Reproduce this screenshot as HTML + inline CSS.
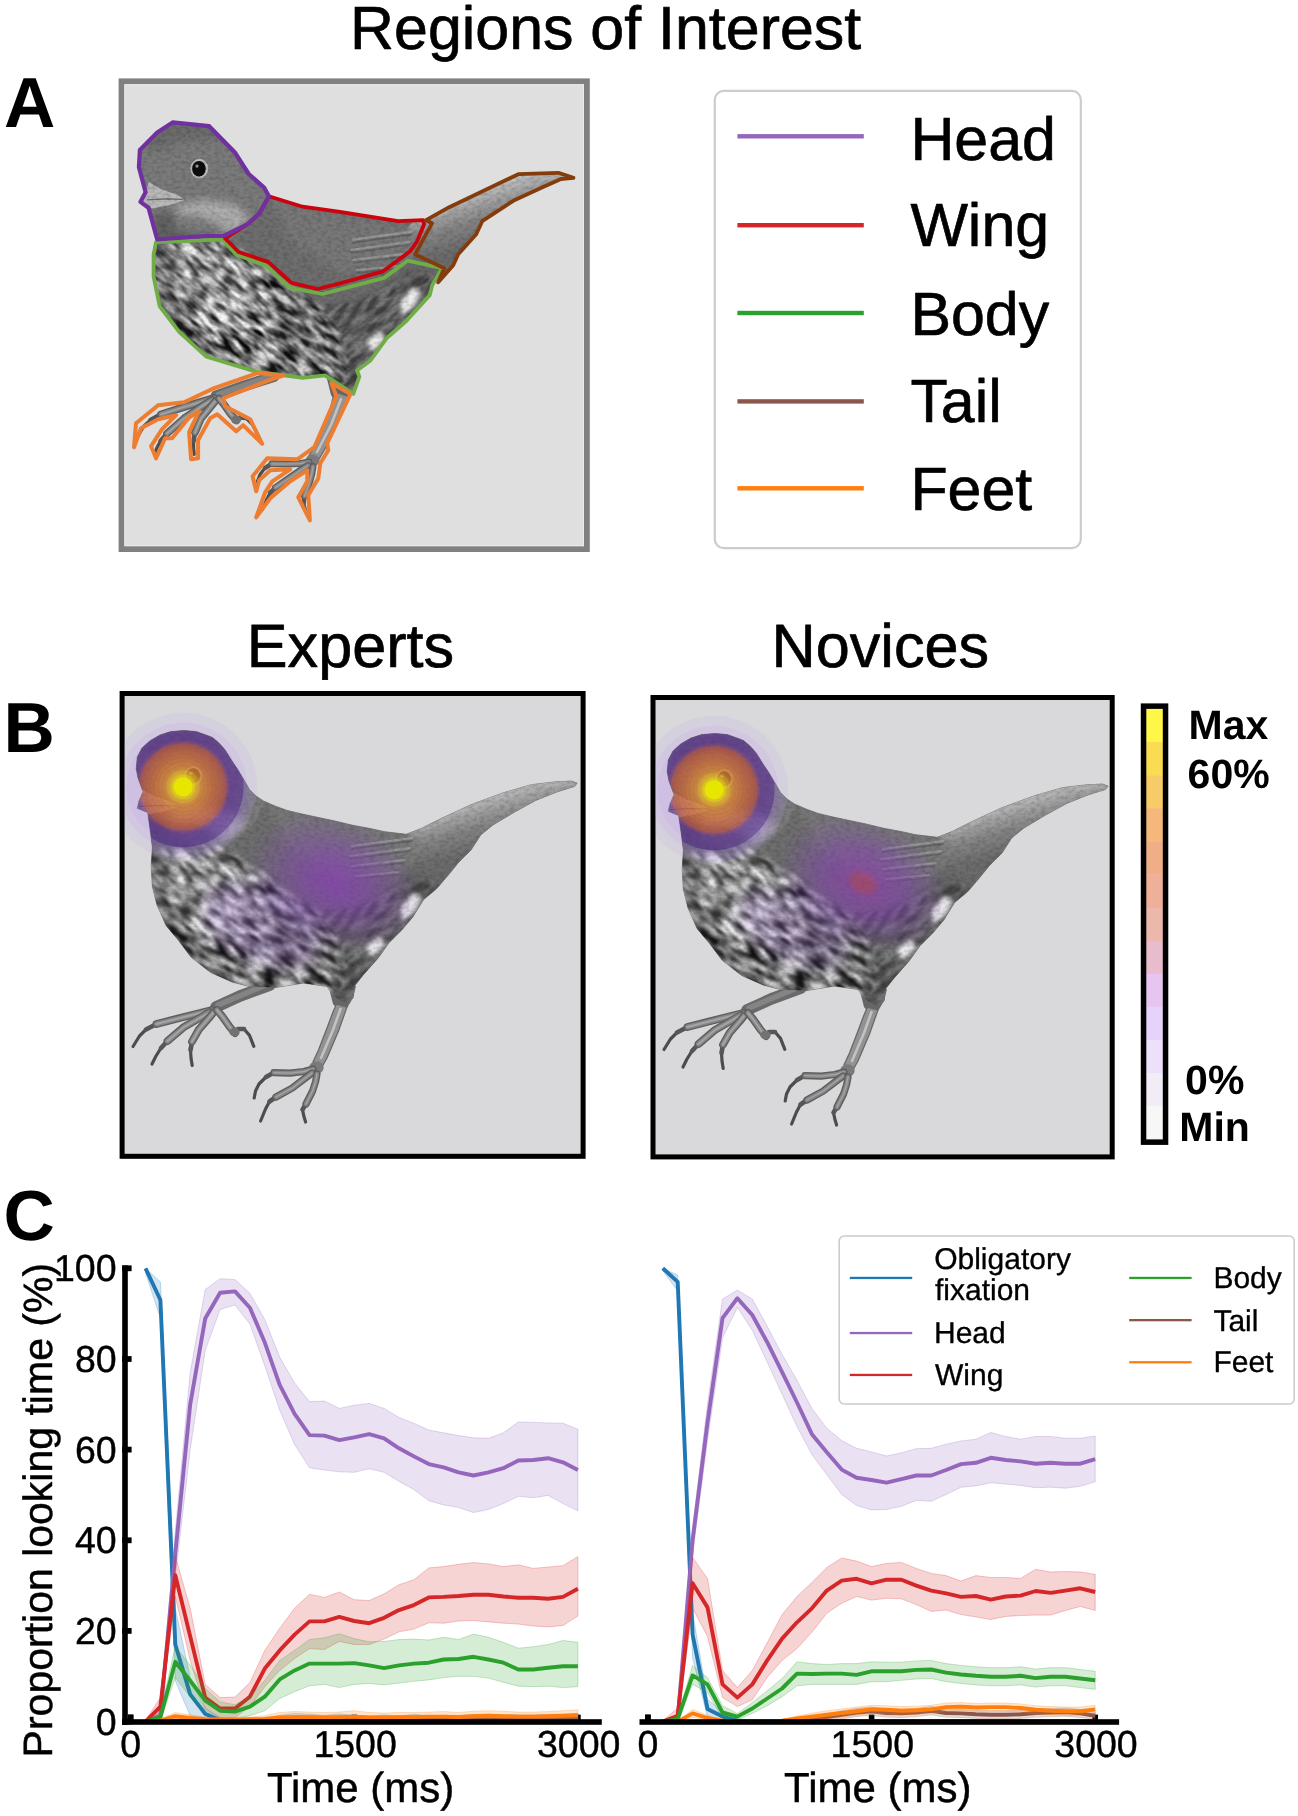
<!DOCTYPE html>
<html><head><meta charset="utf-8"><title>Figure</title>
<style>
html,body{margin:0;padding:0;background:#ffffff;overflow:hidden;}
svg{display:block;}
svg{opacity:0.9999;}
text{font-family:"Liberation Sans", sans-serif;fill:#000;text-rendering:geometricPrecision;}
</style></head>
<body>
<svg width="1298" height="1816" viewBox="0 0 1298 1816">
<rect x="0" y="0" width="1298" height="1816" fill="#ffffff"/>
<defs>
<clipPath id="bclip"><path d="M137.3,808.3 L139.0,801.0 L143.1,791.7 L138.0,778.0 L136.2,768.6 L137.3,757.0 L142.0,748.0 L150.0,740.8 L160.0,735.0 L170.8,731.6 L184.0,730.5 L196.3,731.6 L206.0,735.0 L212.4,737.4 L219.0,743.0 L225.2,750.1 L232.0,761.0 L237.9,769.7 L244.0,780.0 L249.4,789.4 L256.0,796.0 L263.3,800.9 L275.0,806.0 L286.4,810.2 L302.0,814.0 L316.4,817.1 L335.0,821.0 L352.4,825.2 L370.0,828.5 L384.7,831.7 L406.3,834.3 L421.4,828.4 L440.8,818.7 L471.0,804.7 L503.3,792.8 L531.4,784.7 L553.0,782.1 L571.3,781.0 L577.1,783.1 L574.5,786.4 L557.3,791.8 L535.7,800.4 L514.1,812.3 L492.6,825.2 L480.7,834.9 L471.0,850.0 L458.0,863.0 L449.4,873.7 L436.5,888.8 L423.5,899.6 L412.8,916.9 L402.0,929.8 L389.0,942.8 L378.2,957.9 L363.1,975.1 L354.5,985.9 L353.0,998.2 L344.0,1003.0 L333.6,996.1 L327.1,986.4 L303.3,983.1 L275.3,987.5 L249.4,986.4 L232.2,982.1 L210.6,972.4 L191.2,957.3 L178.2,940.0 L166.2,925.7 L157.0,904.9 L152.4,886.4 L151.2,865.6 L152.4,847.2 L150.0,828.7 L147.7,812.5Z"/></clipPath>
<filter id="mottle" x="-5%" y="-5%" width="110%" height="110%" color-interpolation-filters="sRGB">
<feTurbulence type="fractalNoise" baseFrequency="0.055 0.15" numOctaves="2" seed="11" result="n"/>
<feColorMatrix in="n" type="matrix" values="2.3 0 0 0 -0.64  2.3 0 0 0 -0.64  2.3 0 0 0 -0.64  0 0 0 0 1" result="g"/>
<feGaussianBlur in="g" stdDeviation="0.8" result="gb"/>
<feComposite in="gb" in2="SourceGraphic" operator="in"/>
</filter>
<filter id="grain" x="0" y="0" width="100%" height="100%" color-interpolation-filters="sRGB">
<feTurbulence type="fractalNoise" baseFrequency="0.2 0.32" numOctaves="3" seed="4" result="n"/>
<feColorMatrix in="n" type="matrix" values="0 0 0 0 0  0 0 0 0 0  0 0 0 0 0  0.36 0 0 0 -0.14" result="g"/>
<feGaussianBlur in="g" stdDeviation="0.7" result="gb"/>
<feComposite in="gb" in2="SourceGraphic" operator="in"/>
</filter>
<filter id="soft" x="-20%" y="-20%" width="140%" height="140%"><feGaussianBlur stdDeviation="4"/></filter>
<filter id="soft3" x="-40%" y="-40%" width="180%" height="180%"><feGaussianBlur stdDeviation="2.2"/></filter>
<filter id="soft2" x="-20%" y="-20%" width="140%" height="140%"><feGaussianBlur stdDeviation="1.2"/></filter>
<filter id="soft8" x="-30%" y="-30%" width="160%" height="160%"><feGaussianBlur stdDeviation="8"/></filter>
<linearGradient id="tailg" gradientUnits="userSpaceOnUse" x1="478" y1="799" x2="492" y2="845"><stop offset="0" stop-color="#c2c2c2"/><stop offset="0.22" stop-color="#a6a6a6"/><stop offset="0.55" stop-color="#868686"/><stop offset="1" stop-color="#6c6c6c"/></linearGradient>
<radialGradient id="heatGrad" gradientUnits="userSpaceOnUse" cx="183.1" cy="786.8" r="74">
<stop offset="0" stop-color="#e6e600" stop-opacity="1"/>
<stop offset="0.122" stop-color="#e6e600" stop-opacity="1"/>
<stop offset="0.135" stop-color="#e4cc20" stop-opacity="0.92"/>
<stop offset="0.178" stop-color="#e2c024" stop-opacity="0.9"/>
<stop offset="0.186" stop-color="#e0ac2c" stop-opacity="0.86"/>
<stop offset="0.232" stop-color="#dea030" stop-opacity="0.84"/>
<stop offset="0.24" stop-color="#da8a32" stop-opacity="0.8"/>
<stop offset="0.32" stop-color="#d47a34" stop-opacity="0.78"/>
<stop offset="0.40" stop-color="#cc6a36" stop-opacity="0.76"/>
<stop offset="0.49" stop-color="#c25c3a" stop-opacity="0.74"/>
<stop offset="0.575" stop-color="#b04c46" stop-opacity="0.72"/>
<stop offset="0.60" stop-color="#843c7c" stop-opacity="0.7"/>
<stop offset="0.64" stop-color="#5e3094" stop-opacity="0.68"/>
<stop offset="0.81" stop-color="#5c329c" stop-opacity="0.62"/>
<stop offset="0.825" stop-color="#8c6cc6" stop-opacity="0.42"/>
<stop offset="0.92" stop-color="#a486d4" stop-opacity="0.3"/>
<stop offset="1" stop-color="#b89ee0" stop-opacity="0.1"/>
</radialGradient>
<radialGradient id="wingE" gradientUnits="objectBoundingBox" cx="0.5" cy="0.5" r="0.5">
<stop offset="0" stop-color="#8a3db6" stop-opacity="0.74"/>
<stop offset="0.3" stop-color="#8540b4" stop-opacity="0.62"/>
<stop offset="0.55" stop-color="#8344b2" stop-opacity="0.42"/>
<stop offset="0.8" stop-color="#8048b0" stop-opacity="0.18"/>
<stop offset="1" stop-color="#8050b0" stop-opacity="0"/>
</radialGradient>
<radialGradient id="wingN" gradientUnits="objectBoundingBox" cx="0.5" cy="0.5" r="0.5">
<stop offset="0" stop-color="#b03c6c" stop-opacity="0.72"/>
<stop offset="0.13" stop-color="#a83c80" stop-opacity="0.68"/>
<stop offset="0.2" stop-color="#8c3cae" stop-opacity="0.64"/>
<stop offset="0.5" stop-color="#8340b4" stop-opacity="0.5"/>
<stop offset="0.78" stop-color="#8048b0" stop-opacity="0.22"/>
<stop offset="1" stop-color="#8050b0" stop-opacity="0"/>
</radialGradient>
<g id="feetB">
<path d="M270,985 L240,996 L216,1007" fill="none" stroke="#6a6a6a" stroke-width="11.5" stroke-linecap="round" stroke-linejoin="round"/>
<path d="M268,984 L218,1005" fill="none" stroke="#848484" stroke-width="5.5" stroke-linecap="round" stroke-linejoin="round"/>
<path d="M156.5,1024 L146,1029.5 L139.5,1036 L133,1046.5" fill="none" stroke="#4c4c4c" stroke-width="3.2" stroke-linecap="round" stroke-linejoin="round"/>
<path d="M156.5,1024 L146,1029.5" fill="none" stroke="#565656" stroke-width="4.6" stroke-linecap="round" stroke-linejoin="round"/>
<path d="M212,1010 L199,1013.2 L176.8,1018.8 L156.5,1024" fill="none" stroke="#5e5e5e" stroke-width="7.8" stroke-linecap="round" stroke-linejoin="round"/>
<path d="M212,1010 L199,1013.2 L176.8,1018.8 L156.5,1024" fill="none" stroke="#868686" stroke-width="5.0" stroke-linecap="round" stroke-linejoin="round"/>
<path d="M212,1010 L199,1013.2 L176.8,1018.8 L156.5,1024" fill="none" stroke="#a4a4a4" stroke-width="2.0" stroke-linecap="round" stroke-linejoin="round"/>
<path d="M167.5,1041 L161,1048 L156,1056 L152,1064" fill="none" stroke="#4c4c4c" stroke-width="3.2" stroke-linecap="round" stroke-linejoin="round"/>
<path d="M167.5,1041 L161,1048" fill="none" stroke="#565656" stroke-width="4.6" stroke-linecap="round" stroke-linejoin="round"/>
<path d="M210,1012 L201.4,1017 L184.2,1026.8 L167.5,1041" fill="none" stroke="#5e5e5e" stroke-width="7.8" stroke-linecap="round" stroke-linejoin="round"/>
<path d="M210,1012 L201.4,1017 L184.2,1026.8 L167.5,1041" fill="none" stroke="#868686" stroke-width="5.0" stroke-linecap="round" stroke-linejoin="round"/>
<path d="M210,1012 L201.4,1017 L184.2,1026.8 L167.5,1041" fill="none" stroke="#a4a4a4" stroke-width="2.0" stroke-linecap="round" stroke-linejoin="round"/>
<path d="M192,1041.6 L190.5,1050 L191,1058 L192.2,1065.4" fill="none" stroke="#4c4c4c" stroke-width="3.2" stroke-linecap="round" stroke-linejoin="round"/>
<path d="M192,1041.6 L190.5,1050" fill="none" stroke="#565656" stroke-width="4.6" stroke-linecap="round" stroke-linejoin="round"/>
<path d="M213,1013 L208.8,1018.2 L199,1029.3 L192,1041.6" fill="none" stroke="#5e5e5e" stroke-width="7.8" stroke-linecap="round" stroke-linejoin="round"/>
<path d="M213,1013 L208.8,1018.2 L199,1029.3 L192,1041.6" fill="none" stroke="#868686" stroke-width="5.0" stroke-linecap="round" stroke-linejoin="round"/>
<path d="M213,1013 L208.8,1018.2 L199,1029.3 L192,1041.6" fill="none" stroke="#a4a4a4" stroke-width="2.0" stroke-linecap="round" stroke-linejoin="round"/>
<path d="M238,1029 L244,1029 L249.5,1035.4 L253.8,1046.3" fill="none" stroke="#4c4c4c" stroke-width="3.2" stroke-linecap="round" stroke-linejoin="round"/>
<path d="M238,1029 L244,1029" fill="none" stroke="#565656" stroke-width="4.6" stroke-linecap="round" stroke-linejoin="round"/>
<path d="M217,1010 L222,1016 L229.8,1027 L235,1033" fill="none" stroke="#5e5e5e" stroke-width="7.8" stroke-linecap="round" stroke-linejoin="round"/>
<path d="M217,1010 L222,1016 L229.8,1027 L235,1033" fill="none" stroke="#868686" stroke-width="5.0" stroke-linecap="round" stroke-linejoin="round"/>
<path d="M217,1010 L222,1016 L229.8,1027 L235,1033" fill="none" stroke="#a4a4a4" stroke-width="2.0" stroke-linecap="round" stroke-linejoin="round"/>
<ellipse cx="234.5" cy="1032" rx="5.2" ry="4.4" fill="#727272"/>
<path d="M328,984 L356,986 L353,998 L347,1008 L338,1010 L333,1004 Z" fill="#666666"/>
<path d="M336.5,1004 L347,1007 L338.5,1031 L327,1058 L322.5,1066 L313,1062 L318.5,1050 L327,1028 L333,1012 Z" fill="#929292" stroke="#686868" stroke-width="1.3"/>
<path d="M340.5,1009 L333,1030 L321,1058" fill="none" stroke="#c2c2c2" stroke-width="2.6" stroke-linecap="round" stroke-linejoin="round"/>
<ellipse cx="316.5" cy="1067.5" rx="7.2" ry="6.2" fill="#7a7a7a"/>
<path d="M274,1072.6 L266,1077 L259,1084 L255.5,1091 L254.2,1098" fill="none" stroke="#4c4c4c" stroke-width="3.2" stroke-linecap="round" stroke-linejoin="round"/>
<path d="M274,1072.6 L266,1077" fill="none" stroke="#565656" stroke-width="4.6" stroke-linecap="round" stroke-linejoin="round"/>
<path d="M313,1069 L304,1071.5 L290.1,1073.1 L274,1072.6" fill="none" stroke="#5e5e5e" stroke-width="7.2" stroke-linecap="round" stroke-linejoin="round"/>
<path d="M313,1069 L304,1071.5 L290.1,1073.1 L274,1072.6" fill="none" stroke="#868686" stroke-width="4.4" stroke-linecap="round" stroke-linejoin="round"/>
<path d="M313,1069 L304,1071.5 L290.1,1073.1 L274,1072.6" fill="none" stroke="#a4a4a4" stroke-width="1.4" stroke-linecap="round" stroke-linejoin="round"/>
<path d="M276,1097 L269.5,1101.5 L265.5,1109 L260.6,1121" fill="none" stroke="#4c4c4c" stroke-width="3.2" stroke-linecap="round" stroke-linejoin="round"/>
<path d="M276,1097 L269.5,1101.5" fill="none" stroke="#565656" stroke-width="4.6" stroke-linecap="round" stroke-linejoin="round"/>
<path d="M312,1073 L306,1077.5 L292.1,1088.2 L276,1097" fill="none" stroke="#5e5e5e" stroke-width="7.2" stroke-linecap="round" stroke-linejoin="round"/>
<path d="M312,1073 L306,1077.5 L292.1,1088.2 L276,1097" fill="none" stroke="#868686" stroke-width="4.4" stroke-linecap="round" stroke-linejoin="round"/>
<path d="M312,1073 L306,1077.5 L292.1,1088.2 L276,1097" fill="none" stroke="#a4a4a4" stroke-width="1.4" stroke-linecap="round" stroke-linejoin="round"/>
<path d="M306,1104 L302.5,1109.5 L303.8,1116 L305.6,1122" fill="none" stroke="#4c4c4c" stroke-width="3.2" stroke-linecap="round" stroke-linejoin="round"/>
<path d="M306,1104 L302.5,1109.5" fill="none" stroke="#565656" stroke-width="4.6" stroke-linecap="round" stroke-linejoin="round"/>
<path d="M317,1074 L315.5,1082 L312.6,1091 L306,1104" fill="none" stroke="#5e5e5e" stroke-width="7.2" stroke-linecap="round" stroke-linejoin="round"/>
<path d="M317,1074 L315.5,1082 L312.6,1091 L306,1104" fill="none" stroke="#868686" stroke-width="4.4" stroke-linecap="round" stroke-linejoin="round"/>
<path d="M317,1074 L315.5,1082 L312.6,1091 L306,1104" fill="none" stroke="#a4a4a4" stroke-width="1.4" stroke-linecap="round" stroke-linejoin="round"/>
</g>
<g id="feetA">
<path d="M274,376.5 L244,386 L216,396" fill="none" stroke="#6a6a6a" stroke-width="11.0" stroke-linecap="round" stroke-linejoin="round"/>
<path d="M272,375.5 L218,394.5" fill="none" stroke="#848484" stroke-width="5.2" stroke-linecap="round" stroke-linejoin="round"/>
<path d="M161,414.4 L150.5,420 L143.5,426.5 L137.5,437 L136.3,440.5" fill="none" stroke="#4c4c4c" stroke-width="3.2" stroke-linecap="round" stroke-linejoin="round"/>
<path d="M161,414.4 L150.5,420" fill="none" stroke="#565656" stroke-width="4.6" stroke-linecap="round" stroke-linejoin="round"/>
<path d="M214,398 L202,401.5 L181,408 L161,414.4" fill="none" stroke="#5e5e5e" stroke-width="7.6" stroke-linecap="round" stroke-linejoin="round"/>
<path d="M214,398 L202,401.5 L181,408 L161,414.4" fill="none" stroke="#868686" stroke-width="4.8" stroke-linecap="round" stroke-linejoin="round"/>
<path d="M214,398 L202,401.5 L181,408 L161,414.4" fill="none" stroke="#a4a4a4" stroke-width="1.8" stroke-linecap="round" stroke-linejoin="round"/>
<path d="M167,433.5 L160.5,441 L157,447.5 L155,452.5" fill="none" stroke="#4c4c4c" stroke-width="3.2" stroke-linecap="round" stroke-linejoin="round"/>
<path d="M167,433.5 L160.5,441" fill="none" stroke="#565656" stroke-width="4.6" stroke-linecap="round" stroke-linejoin="round"/>
<path d="M212,400 L203,405.5 L184,418.5 L167,433.5" fill="none" stroke="#5e5e5e" stroke-width="7.6" stroke-linecap="round" stroke-linejoin="round"/>
<path d="M212,400 L203,405.5 L184,418.5 L167,433.5" fill="none" stroke="#868686" stroke-width="4.8" stroke-linecap="round" stroke-linejoin="round"/>
<path d="M212,400 L203,405.5 L184,418.5 L167,433.5" fill="none" stroke="#a4a4a4" stroke-width="1.8" stroke-linecap="round" stroke-linejoin="round"/>
<path d="M195,432.5 L193.6,441 L193.6,448 L194.2,454.5" fill="none" stroke="#4c4c4c" stroke-width="3.2" stroke-linecap="round" stroke-linejoin="round"/>
<path d="M195,432.5 L193.6,441" fill="none" stroke="#565656" stroke-width="4.6" stroke-linecap="round" stroke-linejoin="round"/>
<path d="M215,401.5 L210.5,407 L201,418.5 L195,432.5" fill="none" stroke="#5e5e5e" stroke-width="7.6" stroke-linecap="round" stroke-linejoin="round"/>
<path d="M215,401.5 L210.5,407 L201,418.5 L195,432.5" fill="none" stroke="#868686" stroke-width="4.8" stroke-linecap="round" stroke-linejoin="round"/>
<path d="M215,401.5 L210.5,407 L201,418.5 L195,432.5" fill="none" stroke="#a4a4a4" stroke-width="1.8" stroke-linecap="round" stroke-linejoin="round"/>
<path d="M239.5,417.5 L246,418 L252,424 L256,431 L258.4,437.4" fill="none" stroke="#4c4c4c" stroke-width="3.2" stroke-linecap="round" stroke-linejoin="round"/>
<path d="M239.5,417.5 L246,418" fill="none" stroke="#565656" stroke-width="4.6" stroke-linecap="round" stroke-linejoin="round"/>
<path d="M219,398.5 L224,404.5 L231,414.5 L236.5,420.5" fill="none" stroke="#5e5e5e" stroke-width="7.6" stroke-linecap="round" stroke-linejoin="round"/>
<path d="M219,398.5 L224,404.5 L231,414.5 L236.5,420.5" fill="none" stroke="#868686" stroke-width="4.8" stroke-linecap="round" stroke-linejoin="round"/>
<path d="M219,398.5 L224,404.5 L231,414.5 L236.5,420.5" fill="none" stroke="#a4a4a4" stroke-width="1.8" stroke-linecap="round" stroke-linejoin="round"/>
<ellipse cx="236" cy="419.8" rx="5" ry="4.2" fill="#727272"/>
<path d="M326,375 L352,380 L351,391 L346,401 L336,402 L331,395 Z" fill="#666666"/>
<path d="M334.5,392 L348.5,396.5 L341,414 L331,436 L325,449 L318.5,460 L309,455.5 L316,444 L323,430 L330,410 Z" fill="#929292" stroke="#686868" stroke-width="1.3"/>
<path d="M341,399 L331,425 L317,452" fill="none" stroke="#c2c2c2" stroke-width="2.6" stroke-linecap="round" stroke-linejoin="round"/>
<ellipse cx="312.5" cy="460.5" rx="7" ry="6" fill="#7a7a7a"/>
<path d="M272,463.8 L265,468 L260,474.5 L257.5,481 L256.8,487" fill="none" stroke="#4c4c4c" stroke-width="3.2" stroke-linecap="round" stroke-linejoin="round"/>
<path d="M272,463.8 L265,468" fill="none" stroke="#565656" stroke-width="4.6" stroke-linecap="round" stroke-linejoin="round"/>
<path d="M309,462 L300,463.6 L287,464 L272,463.8" fill="none" stroke="#5e5e5e" stroke-width="7.0" stroke-linecap="round" stroke-linejoin="round"/>
<path d="M309,462 L300,463.6 L287,464 L272,463.8" fill="none" stroke="#868686" stroke-width="4.2" stroke-linecap="round" stroke-linejoin="round"/>
<path d="M309,462 L300,463.6 L287,464 L272,463.8" fill="none" stroke="#a4a4a4" stroke-width="1.2" stroke-linecap="round" stroke-linejoin="round"/>
<path d="M275.5,487.6 L270,493 L266.5,500 L262.5,509.5" fill="none" stroke="#4c4c4c" stroke-width="3.2" stroke-linecap="round" stroke-linejoin="round"/>
<path d="M275.5,487.6 L270,493" fill="none" stroke="#565656" stroke-width="4.6" stroke-linecap="round" stroke-linejoin="round"/>
<path d="M308,465.5 L301,470 L288,479 L275.5,487.6" fill="none" stroke="#5e5e5e" stroke-width="7.0" stroke-linecap="round" stroke-linejoin="round"/>
<path d="M308,465.5 L301,470 L288,479 L275.5,487.6" fill="none" stroke="#868686" stroke-width="4.2" stroke-linecap="round" stroke-linejoin="round"/>
<path d="M308,465.5 L301,470 L288,479 L275.5,487.6" fill="none" stroke="#a4a4a4" stroke-width="1.2" stroke-linecap="round" stroke-linejoin="round"/>
<path d="M304.5,496 L303.6,503 L305.5,510 L308.4,516.5" fill="none" stroke="#4c4c4c" stroke-width="3.2" stroke-linecap="round" stroke-linejoin="round"/>
<path d="M304.5,496 L303.6,503" fill="none" stroke="#565656" stroke-width="4.6" stroke-linecap="round" stroke-linejoin="round"/>
<path d="M313,466.5 L311.8,474 L309,484 L304.5,496" fill="none" stroke="#5e5e5e" stroke-width="7.0" stroke-linecap="round" stroke-linejoin="round"/>
<path d="M313,466.5 L311.8,474 L309,484 L304.5,496" fill="none" stroke="#868686" stroke-width="4.2" stroke-linecap="round" stroke-linejoin="round"/>
<path d="M313,466.5 L311.8,474 L309,484 L304.5,496" fill="none" stroke="#a4a4a4" stroke-width="1.2" stroke-linecap="round" stroke-linejoin="round"/>
</g>
<g id="shade">
<path d="M392,850 L418,824 L471,800 L531,780 L580,776 L582,790 L536,805 L493,830 L470,858 L440,892 L412,922 Z" fill="url(#tailg)"/>
<path d="M424,830 L471,806.5 L531,786.5 L572,783" fill="none" stroke="#b0b0b0" stroke-width="3" filter="url(#soft2)"/>
<path d="M262,800 L300,812 L352,823 L406,832 L418,842 L400,870 L340,880 L290,850 Z" fill="#787878" filter="url(#soft)"/>
<path d="M300,915 L360,906 L415,876 L440,884 L405,930 L372,968 L352,1000 L330,1000 L322,975 L290,950 Z" fill="#545454" filter="url(#soft)"/>
<path d="M352,846 L412,838" stroke="#a0a0a0" stroke-width="2.2" stroke-linecap="round" opacity="0.75"/>
<path d="M352,849 L412,841" stroke="#5c5c5c" stroke-width="1.6" stroke-linecap="round" opacity="0.7"/>
<path d="M350,856 L410,848" stroke="#a0a0a0" stroke-width="2.2" stroke-linecap="round" opacity="0.75"/>
<path d="M350,859 L410,851" stroke="#5c5c5c" stroke-width="1.6" stroke-linecap="round" opacity="0.7"/>
<path d="M352,866 L404,860" stroke="#a0a0a0" stroke-width="2.2" stroke-linecap="round" opacity="0.75"/>
<path d="M352,869 L404,863" stroke="#5c5c5c" stroke-width="1.6" stroke-linecap="round" opacity="0.7"/>
<path d="M356,876 L398,872" stroke="#a0a0a0" stroke-width="2.2" stroke-linecap="round" opacity="0.75"/>
<path d="M356,879 L398,875" stroke="#5c5c5c" stroke-width="1.6" stroke-linecap="round" opacity="0.7"/>
<mask id="bellymask" maskUnits="userSpaceOnUse" x="100" y="800" width="320" height="240"><path d="M140.0,846.0 L218.0,843.0 L236.0,858.0 L262.0,872.0 L290.0,896.0 L318.0,912.0 L336.0,936.0 L346.0,962.0 L340.0,995.0 L300.0,996.0 L250.0,996.0 L200.0,980.0 L160.0,945.0 L140.0,900.0Z" fill="#fff" filter="url(#soft)"/></mask>
<g mask="url(#bellymask)">
<rect x="120" y="820" width="260" height="200" fill="#868686"/>
<g transform="rotate(38 240 920)"><rect x="60" y="760" width="380" height="330" fill="#fff" filter="url(#mottle)" opacity="0.92"/></g>
</g>
<path d="M146,850 L166,850 L170,900 L186,940 L210,968 L196,975 L166,945 L148,900 Z" fill="#303030" opacity="0.4" filter="url(#soft)"/>
<path d="M160,850 L215,848 L250,880 L262,915 L215,925 L168,905 Z" fill="#ffffff" opacity="0.22" filter="url(#soft)"/>
<path d="M185,940 L240,958 L300,962 L345,950 L350,1004 L240,1000 L185,975 Z" fill="#3c3c3c" opacity="0.18" filter="url(#soft)"/>
<path d="M270,900 L320,915 L345,960 L300,965 L268,940 Z" fill="#4a4a4a" opacity="0.3" filter="url(#soft)"/>
<mask id="flankmask" maskUnits="userSpaceOnUse" x="280" y="850" width="200" height="180"><path d="M318.0,912.0 L360.0,906.0 L415.0,876.0 L445.0,884.0 L405.0,930.0 L372.0,968.0 L356.0,1002.0 L338.0,1000.0 L346.0,962.0 L336.0,936.0Z" fill="#fff" filter="url(#soft2)"/></mask>
<g mask="url(#flankmask)" opacity="0.22"><g transform="rotate(-40 380 940)"><rect x="260" y="820" width="240" height="240" fill="#fff" filter="url(#mottle)"/></g></g>
<path d="M401,906 L414,893 L422,899 L413,914 L401,921 Z" fill="#f0f0f0" filter="url(#soft3)"/>
<path d="M365,946 L380,936 L385,945 L371,957 Z" fill="#ececec" filter="url(#soft3)"/>
<path d="M130,756 L150,736 L171,727 L197,727 L216,735 L230,750 L252,790 L266,802 L254,824 L228,840 L195,845 L146,848 L140,812 Z" fill="#7f7f7f" opacity="0.8" filter="url(#soft2)"/>
<path d="M138,752 L150,738 L171,729 L197,729 L214,736 L226,748 L200,746 L170,748 L148,760 Z" fill="#505050" opacity="0.35" filter="url(#soft)"/>
<path d="M170,812 L200,806 L232,812 L246,826 L226,840 L190,842 L166,834 Z" fill="#c4c4c4" opacity="0.7" filter="url(#soft)"/>
<path d="M146,820 L190,822 L222,834 L206,848 L148,850 Z" fill="#404040" opacity="0.45" filter="url(#soft)"/>
<path d="M134,809.5 L141.5,789 L154,796 L172,802 L178,807 L162,812 L145,815 Z" fill="#b9b9b9"/>
<path d="M139.5,806.5 L160,805.5 L176,806" stroke="#6a6a6a" stroke-width="1.2" fill="none"/>
<ellipse cx="193.4" cy="775.6" rx="9.2" ry="9.6" fill="#bdbdbd"/>
<ellipse cx="193.0" cy="775.8" rx="7.0" ry="7.6" fill="#0c0c0c"/>
<ellipse cx="191" cy="773.2" rx="1.7" ry="1.5" fill="#9a9a9a"/>
<rect x="120" y="715" width="470" height="300" fill="#000" filter="url(#grain)"/>
</g>
<g id="bird">
<use href="#feetB"/>
<path d="M137.3,808.3 L139.0,801.0 L143.1,791.7 L138.0,778.0 L136.2,768.6 L137.3,757.0 L142.0,748.0 L150.0,740.8 L160.0,735.0 L170.8,731.6 L184.0,730.5 L196.3,731.6 L206.0,735.0 L212.4,737.4 L219.0,743.0 L225.2,750.1 L232.0,761.0 L237.9,769.7 L244.0,780.0 L249.4,789.4 L256.0,796.0 L263.3,800.9 L275.0,806.0 L286.4,810.2 L302.0,814.0 L316.4,817.1 L335.0,821.0 L352.4,825.2 L370.0,828.5 L384.7,831.7 L406.3,834.3 L421.4,828.4 L440.8,818.7 L471.0,804.7 L503.3,792.8 L531.4,784.7 L553.0,782.1 L571.3,781.0 L577.1,783.1 L574.5,786.4 L557.3,791.8 L535.7,800.4 L514.1,812.3 L492.6,825.2 L480.7,834.9 L471.0,850.0 L458.0,863.0 L449.4,873.7 L436.5,888.8 L423.5,899.6 L412.8,916.9 L402.0,929.8 L389.0,942.8 L378.2,957.9 L363.1,975.1 L354.5,985.9 L353.0,998.2 L344.0,1003.0 L333.6,996.1 L327.1,986.4 L303.3,983.1 L275.3,987.5 L249.4,986.4 L232.2,982.1 L210.6,972.4 L191.2,957.3 L178.2,940.0 L166.2,925.7 L157.0,904.9 L152.4,886.4 L151.2,865.6 L152.4,847.2 L150.0,828.7 L147.7,812.5Z" fill="#6e6e6e" stroke="#6e6e6e" stroke-width="0.8" stroke-linejoin="round"/>
<g clip-path="url(#bclip)"><use href="#shade"/></g>
</g>
<clipPath id="aclip"><path d="M172.6,122.4 L209.2,126.2 L235.2,152.8 L248.7,174.0 L264.1,187.5 L268.9,196.2 L259.3,213.5 L247.7,224.1 L223.6,236.0 L204.4,236.0 L157.2,239.5 L148.5,207.7 L140.4,201.9 L145.6,192.3 L138.9,167.3 L139.9,149.9 L157.2,132.6Z"/><path d="M268.9,196.2 L302.6,206.7 L340.0,211.8 L398.1,221.2 L423.1,220.2 L424.1,224.2 L417.1,241.3 L410.1,251.3 L383.1,271.3 L340.0,283.3 L317.5,289.0 L291.6,282.9 L268.2,261.9 L238.6,252.0 L225.1,238.5 L247.7,224.1 L259.3,213.5Z"/><path d="M156.0,242.2 L222.6,239.7 L236.2,254.5 L265.7,265.6 L290.4,287.8 L322.4,294.0 L384.1,277.9 L407.5,260.7 L442.0,268.1 L432.2,285.3 L429.7,295.2 L406.3,321.1 L386.5,338.3 L370.5,360.5 L357.0,370.4 L359.4,376.6 L353.3,393.8 L324.9,375.3 L302.7,377.8 L255.9,371.6 L206.6,356.8 L179.4,332.2 L159.7,306.3 L153.6,276.7 L153.6,254.5Z"/><path d="M426.1,220.2 L449.2,207.2 L518.3,174.2 L558.4,172.8 L573.4,177.8 L560.4,179.2 L540.3,188.2 L514.3,200.2 L482.2,221.2 L476.2,234.3 L458.2,254.3 L453.2,265.3 L438.2,282.3 L444.2,268.3 L415.1,254.3 L432.1,223.2Z"/><path d="M410.1,251.3 L383.1,271.3 L340.0,283.3 L317.5,289.0 L291.6,282.9 L268.2,261.9 L238.6,252.0 L225.1,238.5 L222.6,239.7 L236.2,254.5 L265.7,265.6 L290.4,287.8 L322.4,294.0 L384.1,277.9 L407.5,260.7Z"/><path d="M410.1,251.3 L415.1,254.3 L444.2,268.3 L442.0,268.1 L407.5,260.7Z"/><path d="M423.1,220.2 L426.1,220.2 L432.1,223.2 L415.1,254.3 L410.1,251.3 L417.1,241.3 L424.1,224.2Z"/><path d="M157.2,239.5 L204.4,236.0 L223.6,236.0 L225.1,238.5 L222.6,239.7 L156.0,242.2Z"/></clipPath>
<g id="birdA">
<use href="#feetA"/>
<path d="M172.6,122.4 L209.2,126.2 L235.2,152.8 L248.7,174.0 L264.1,187.5 L268.9,196.2 L259.3,213.5 L247.7,224.1 L223.6,236.0 L204.4,236.0 L157.2,239.5 L148.5,207.7 L140.4,201.9 L145.6,192.3 L138.9,167.3 L139.9,149.9 L157.2,132.6Z" fill="#6e6e6e" stroke="#6e6e6e" stroke-width="1"/>
<path d="M268.9,196.2 L302.6,206.7 L340.0,211.8 L398.1,221.2 L423.1,220.2 L424.1,224.2 L417.1,241.3 L410.1,251.3 L383.1,271.3 L340.0,283.3 L317.5,289.0 L291.6,282.9 L268.2,261.9 L238.6,252.0 L225.1,238.5 L247.7,224.1 L259.3,213.5Z" fill="#6e6e6e" stroke="#6e6e6e" stroke-width="1"/>
<path d="M156.0,242.2 L222.6,239.7 L236.2,254.5 L265.7,265.6 L290.4,287.8 L322.4,294.0 L384.1,277.9 L407.5,260.7 L442.0,268.1 L432.2,285.3 L429.7,295.2 L406.3,321.1 L386.5,338.3 L370.5,360.5 L357.0,370.4 L359.4,376.6 L353.3,393.8 L324.9,375.3 L302.7,377.8 L255.9,371.6 L206.6,356.8 L179.4,332.2 L159.7,306.3 L153.6,276.7 L153.6,254.5Z" fill="#6e6e6e" stroke="#6e6e6e" stroke-width="1"/>
<path d="M426.1,220.2 L449.2,207.2 L518.3,174.2 L558.4,172.8 L573.4,177.8 L560.4,179.2 L540.3,188.2 L514.3,200.2 L482.2,221.2 L476.2,234.3 L458.2,254.3 L453.2,265.3 L438.2,282.3 L444.2,268.3 L415.1,254.3 L432.1,223.2Z" fill="#6e6e6e" stroke="#6e6e6e" stroke-width="1"/>
<path d="M410.1,251.3 L383.1,271.3 L340.0,283.3 L317.5,289.0 L291.6,282.9 L268.2,261.9 L238.6,252.0 L225.1,238.5 L222.6,239.7 L236.2,254.5 L265.7,265.6 L290.4,287.8 L322.4,294.0 L384.1,277.9 L407.5,260.7Z" fill="#6e6e6e" stroke="#6e6e6e" stroke-width="1"/>
<path d="M410.1,251.3 L415.1,254.3 L444.2,268.3 L442.0,268.1 L407.5,260.7Z" fill="#6e6e6e" stroke="#6e6e6e" stroke-width="1"/>
<path d="M423.1,220.2 L426.1,220.2 L432.1,223.2 L415.1,254.3 L410.1,251.3 L417.1,241.3 L424.1,224.2Z" fill="#6e6e6e" stroke="#6e6e6e" stroke-width="1"/>
<path d="M157.2,239.5 L204.4,236.0 L223.6,236.0 L225.1,238.5 L222.6,239.7 L156.0,242.2Z" fill="#6e6e6e" stroke="#6e6e6e" stroke-width="1"/>
<g clip-path="url(#aclip)"><use href="#shade" transform="translate(11.55,-615.67) scale(0.9709,1.0111)"/></g>
</g>
<g id="heatOut">
<circle cx="183.1" cy="786.8" r="74.0" fill="#c3a6ea" opacity="0.16"/>
<circle cx="183.1" cy="786.8" r="64.0" fill="#c3a6ea" opacity="0.20"/>
<circle cx="183.1" cy="786.8" r="56.5" fill="#c3a6ea" opacity="0.25"/>
</g>
<g id="heatIn" clip-path="url(#bclip)">
<circle cx="183.1" cy="786.8" r="74" fill="url(#heatGrad)"/>
<circle cx="183.1" cy="786.8" r="13" fill="none" stroke="#b8502c" stroke-opacity="0.16" stroke-width="0.9"/>
<circle cx="183.1" cy="786.8" r="17" fill="none" stroke="#b8502c" stroke-opacity="0.16" stroke-width="0.9"/>
<circle cx="183.1" cy="786.8" r="21" fill="none" stroke="#b8502c" stroke-opacity="0.16" stroke-width="0.9"/>
<circle cx="183.1" cy="786.8" r="25" fill="none" stroke="#b8502c" stroke-opacity="0.16" stroke-width="0.9"/>
<circle cx="183.1" cy="786.8" r="29" fill="none" stroke="#b8502c" stroke-opacity="0.16" stroke-width="0.9"/>
<circle cx="183.1" cy="786.8" r="33" fill="none" stroke="#b8502c" stroke-opacity="0.16" stroke-width="0.9"/>
<circle cx="183.1" cy="786.8" r="37" fill="none" stroke="#b8502c" stroke-opacity="0.16" stroke-width="0.9"/>
<circle cx="183.1" cy="786.8" r="41" fill="none" stroke="#b8502c" stroke-opacity="0.16" stroke-width="0.9"/>
</g>
</defs>
<rect x="118.6" y="78.4" width="471.2" height="473.6" fill="#808080"/>
<rect x="124.4" y="84.2" width="459.6" height="462" fill="#dfdfdf"/>
<rect x="124.9" y="84.7" width="458.6" height="461" fill="none" stroke="#ececec" stroke-width="1"/>
<use href="#birdA"/>
<path d="M156.0,242.2 L222.6,239.7 L236.2,254.5 L265.7,265.6 L290.4,287.8 L322.4,294.0 L384.1,277.9 L407.5,260.7 L442.0,268.1 L432.2,285.3 L429.7,295.2 L406.3,321.1 L386.5,338.3 L370.5,360.5 L357.0,370.4 L359.4,376.6 L353.3,393.8 L324.9,375.3 L302.7,377.8 L255.9,371.6 L206.6,356.8 L179.4,332.2 L159.7,306.3 L153.6,276.7 L153.6,254.5Z" fill="none" stroke="#70ad47" stroke-width="3.8" stroke-linejoin="round"/>
<path d="M268.9,196.2 L302.6,206.7 L340.0,211.8 L398.1,221.2 L423.1,220.2 L424.1,224.2 L417.1,241.3 L410.1,251.3 L383.1,271.3 L340.0,283.3 L317.5,289.0 L291.6,282.9 L268.2,261.9 L238.6,252.0 L225.1,238.5 L247.7,224.1 L259.3,213.5Z" fill="none" stroke="#c9040c" stroke-width="3.8" stroke-linejoin="round"/>
<path d="M426.1,220.2 L449.2,207.2 L518.3,174.2 L558.4,172.8 L573.4,177.8 L560.4,179.2 L540.3,188.2 L514.3,200.2 L482.2,221.2 L476.2,234.3 L458.2,254.3 L453.2,265.3 L438.2,282.3 L444.2,268.3 L415.1,254.3 L432.1,223.2Z" fill="none" stroke="#843c0c" stroke-width="3.8" stroke-linejoin="round"/>
<path d="M172.6,122.4 L209.2,126.2 L235.2,152.8 L248.7,174.0 L264.1,187.5 L268.9,196.2 L259.3,213.5 L247.7,224.1 L223.6,236.0 L204.4,236.0 L157.2,239.5 L148.5,207.7 L140.4,201.9 L145.6,192.3 L138.9,167.3 L139.9,149.9 L157.2,132.6Z" fill="none" stroke="#7030a0" stroke-width="4.2" stroke-linejoin="round"/>
<path d="M257.2,373.1 L283.3,375.7 L272.3,379.1 L223.2,398.2 L225.2,406.2 L250.2,419.2 L262.2,443.8 L243.2,425.2 L236.2,431.2 L217.2,414.2 L210.2,418.2 L198.1,440.2 L198.1,458.3 L191.1,459.3 L189.1,432.2 L199.1,411.2 L190.1,416.2 L172.1,438.2 L165.1,438.2 L156.1,458.3 L151.1,446.2 L162.1,429.2 L176.1,415.2 L158.1,419.2 L141.0,428.2 L134.0,447.2 L136.0,423.2 L158.1,405.2 L184.1,402.2 L214.2,388.1Z" fill="none" stroke="#ed7d31" stroke-width="4.0" stroke-linejoin="round"/>
<path d="M331.4,383.1 L350.4,394.1 L327.3,443.2 L328.3,450.2 L320.3,463.3 L318.3,478.3 L308.3,495.3 L309.9,520.4 L298.3,497.3 L307.3,481.3 L307.3,470.3 L290.3,481.3 L270.3,498.3 L256.2,517.3 L265.2,492.3 L272.3,481.3 L290.3,469.3 L270.3,470.3 L259.2,480.3 L256.2,491.3 L252.6,476.3 L267.2,458.3 L297.3,459.3 L314.3,447.2 L336.4,396.2Z" fill="none" stroke="#ed7d31" stroke-width="4.0" stroke-linejoin="round"/>
<rect x="119.6" y="691.0" width="466.0" height="467.8" fill="#000"/>
<rect x="124.6" y="696.0" width="456.0" height="457.8" fill="#d9d8db"/>
<svg x="124.6" y="696.0" width="456.0" height="457.8" viewBox="124.6 696.0 456.0 457.8" overflow="hidden">
<g transform="translate(0,0)">
<use href="#heatOut"/>
<use href="#bird"/>
<use href="#heatIn"/>
<g clip-path="url(#bclip)">
<ellipse cx="0" cy="0" rx="92" ry="66" fill="url(#wingE)" transform="translate(334,882) rotate(24)"/>
<ellipse cx="262" cy="925" rx="62" ry="36" fill="#9a6ad0" opacity="0.28" filter="url(#soft8)" transform="rotate(25 262 925)"/>
</g>
</g>
</svg>
<rect x="650.5" y="695.0" width="464.2" height="464.4" fill="#000"/>
<rect x="655.5" y="700.0" width="454.2" height="454.4" fill="#d9d8db"/>
<svg x="655.5" y="700.0" width="454.2" height="454.4" viewBox="655.5 700.0 454.2 454.4" overflow="hidden">
<g transform="translate(531,3)">
<use href="#heatOut"/>
<use href="#bird"/>
<use href="#heatIn"/>
<g clip-path="url(#bclip)">
<ellipse cx="0" cy="0" rx="90" ry="64" fill="url(#wingN)" transform="translate(332,880) rotate(24)"/>
<ellipse cx="262" cy="925" rx="58" ry="32" fill="#9a6ad0" opacity="0.24" filter="url(#soft8)" transform="rotate(25 262 925)"/>
</g>
</g>
</svg>
<rect x="127.8" y="1714.6" width="5.6" height="6" fill="#000"/>
<rect x="351.4" y="1714.6" width="5.6" height="6" fill="#000"/>
<rect x="575.1" y="1714.6" width="5.6" height="6" fill="#000"/>
<rect x="645.1" y="1714.6" width="5.6" height="6" fill="#000"/>
<rect x="868.8" y="1714.6" width="5.6" height="6" fill="#000"/>
<rect x="1092.4" y="1714.6" width="5.6" height="6" fill="#000"/>
<g id="chart1">
<path d="M145.5,1268.3 L160.4,1281.9 L175.3,1608.3 L190.2,1677.6 L205.2,1708.5 L220.1,1718.0 L235.0,1719.8 L249.9,1719.3 L264.8,1718.0 L279.7,1715.3 L294.6,1713.4 L309.5,1714.3 L324.4,1715.3 L339.3,1713.9 L354.2,1715.3 L369.2,1716.2 L384.1,1714.8 L399.0,1716.2 L413.9,1714.3 L428.8,1715.7 L443.7,1717.1 L458.6,1715.7 L473.5,1716.2 L488.4,1717.1 L503.4,1717.1 L518.3,1717.1 L533.2,1717.1 L548.1,1717.1 L563.0,1717.1 L577.9,1717.1 L577.9,1721.6 L563.0,1721.6 L548.1,1721.6 L533.2,1721.6 L518.3,1721.6 L503.4,1721.6 L488.4,1721.6 L473.5,1721.6 L458.6,1721.6 L443.7,1721.6 L428.8,1721.6 L413.9,1721.6 L399.0,1721.6 L384.1,1721.6 L369.2,1721.6 L354.2,1721.6 L339.3,1721.6 L324.4,1721.6 L309.5,1721.6 L294.6,1721.6 L279.7,1721.6 L264.8,1721.6 L249.9,1721.6 L235.0,1721.6 L220.1,1721.6 L205.2,1721.6 L190.2,1715.7 L175.3,1680.8 L160.4,1318.2 L145.5,1272.8Z" fill="#1f77b4" fill-opacity="0.2" stroke="#1f77b4" stroke-opacity="0.25" stroke-width="1"/>
<path d="M145.5,1268.3 L160.4,1300.0 L175.3,1644.5 L190.2,1694.4 L205.2,1713.9 L220.1,1720.2 L235.0,1720.9 L249.9,1720.9 L264.8,1720.9 L279.7,1720.9 L294.6,1720.9 L309.5,1720.9 L324.4,1720.9 L339.3,1720.9 L354.2,1720.9 L369.2,1720.9 L384.1,1720.9 L399.0,1720.9 L413.9,1720.9 L428.8,1720.9 L443.7,1720.9 L458.6,1720.9 L473.5,1720.9 L488.4,1720.9 L503.4,1720.9 L518.3,1720.9 L533.2,1720.9 L548.1,1720.9 L563.0,1720.9 L577.9,1720.9" fill="none" stroke="#1f77b4" stroke-width="3.9" stroke-linejoin="round" stroke-linecap="butt"/>
<path d="M145.5,1720.2 L160.4,1710.3 L175.3,1531.2 L190.2,1372.6 L205.2,1289.6 L220.1,1278.7 L235.0,1279.6 L249.9,1293.2 L264.8,1319.5 L279.7,1357.1 L294.6,1383.0 L309.5,1401.6 L324.4,1401.1 L339.3,1408.4 L354.2,1405.2 L369.2,1403.4 L384.1,1408.4 L399.0,1417.4 L413.9,1423.3 L428.8,1430.1 L443.7,1432.8 L458.6,1435.6 L473.5,1437.8 L488.4,1438.3 L503.4,1432.8 L518.3,1422.0 L533.2,1422.4 L548.1,1422.9 L563.0,1423.3 L577.9,1429.2 L577.9,1510.8 L563.0,1503.6 L548.1,1495.4 L533.2,1497.7 L518.3,1496.3 L503.4,1503.6 L488.4,1509.5 L473.5,1512.6 L458.6,1507.6 L443.7,1504.9 L428.8,1500.8 L413.9,1489.5 L399.0,1481.4 L384.1,1472.3 L369.2,1468.7 L354.2,1472.3 L339.3,1471.8 L324.4,1470.0 L309.5,1467.8 L294.6,1444.6 L279.7,1410.2 L264.8,1365.8 L249.9,1324.1 L235.0,1305.0 L220.1,1309.6 L205.2,1350.3 L190.2,1449.6 L175.3,1576.5 L160.4,1720.2 L145.5,1721.6Z" fill="#9467bd" fill-opacity="0.2" stroke="#9467bd" stroke-opacity="0.25" stroke-width="1"/>
<path d="M145.5,1721.6 L160.4,1715.7 L175.3,1553.9 L190.2,1404.3 L205.2,1318.6 L220.1,1292.8 L235.0,1291.4 L249.9,1307.7 L264.8,1342.6 L279.7,1384.8 L294.6,1413.8 L309.5,1435.1 L324.4,1435.6 L339.3,1440.1 L354.2,1437.4 L369.2,1434.2 L384.1,1438.3 L399.0,1448.3 L413.9,1456.4 L428.8,1464.1 L443.7,1467.3 L458.6,1472.3 L473.5,1475.5 L488.4,1472.3 L503.4,1468.2 L518.3,1460.5 L533.2,1460.0 L548.1,1458.2 L563.0,1462.3 L577.9,1470.0" fill="none" stroke="#9467bd" stroke-width="3.9" stroke-linejoin="round" stroke-linecap="butt"/>
<path d="M145.5,1720.2 L160.4,1697.6 L175.3,1556.1 L190.2,1608.3 L205.2,1684.4 L220.1,1697.6 L235.0,1697.1 L249.9,1682.6 L264.8,1650.4 L279.7,1628.2 L294.6,1608.3 L309.5,1594.2 L324.4,1597.4 L339.3,1592.0 L354.2,1599.7 L369.2,1600.6 L384.1,1593.8 L399.0,1584.7 L413.9,1579.7 L428.8,1567.9 L443.7,1566.6 L458.6,1564.3 L473.5,1562.5 L488.4,1563.9 L503.4,1566.6 L518.3,1564.8 L533.2,1568.4 L548.1,1567.0 L563.0,1565.7 L577.9,1556.6 L577.9,1616.0 L563.0,1625.5 L548.1,1626.9 L533.2,1626.0 L518.3,1624.1 L503.4,1623.2 L488.4,1621.9 L473.5,1620.5 L458.6,1621.0 L443.7,1623.2 L428.8,1622.8 L413.9,1629.1 L399.0,1631.8 L384.1,1639.1 L369.2,1644.5 L354.2,1644.5 L339.3,1641.4 L324.4,1649.5 L309.5,1648.6 L294.6,1658.6 L279.7,1670.4 L264.8,1686.7 L249.9,1706.6 L235.0,1717.5 L220.1,1717.5 L205.2,1708.5 L190.2,1660.4 L175.3,1596.5 L160.4,1714.8 L145.5,1721.6Z" fill="#d62728" fill-opacity="0.2" stroke="#d62728" stroke-opacity="0.25" stroke-width="1"/>
<path d="M145.5,1721.6 L160.4,1706.6 L175.3,1575.2 L190.2,1636.4 L205.2,1697.6 L220.1,1708.5 L235.0,1708.5 L249.9,1696.7 L264.8,1668.6 L279.7,1650.4 L294.6,1634.6 L309.5,1621.4 L324.4,1621.4 L339.3,1616.9 L354.2,1621.0 L369.2,1623.2 L384.1,1617.8 L399.0,1610.1 L413.9,1605.1 L428.8,1597.4 L443.7,1596.9 L458.6,1596.0 L473.5,1594.7 L488.4,1594.7 L503.4,1596.5 L518.3,1597.8 L533.2,1597.8 L548.1,1598.8 L563.0,1596.9 L577.9,1588.8" fill="none" stroke="#d62728" stroke-width="3.9" stroke-linejoin="round" stroke-linecap="butt"/>
<path d="M145.5,1720.7 L160.4,1712.5 L175.3,1646.4 L190.2,1664.9 L205.2,1688.5 L220.1,1701.7 L235.0,1704.8 L249.9,1696.7 L264.8,1680.3 L279.7,1660.4 L294.6,1650.4 L309.5,1639.6 L324.4,1637.7 L339.3,1633.7 L354.2,1638.6 L369.2,1641.8 L384.1,1641.4 L399.0,1639.6 L413.9,1639.1 L428.8,1640.0 L443.7,1637.3 L458.6,1639.6 L473.5,1634.1 L488.4,1637.3 L503.4,1642.3 L518.3,1648.2 L533.2,1646.8 L548.1,1644.5 L563.0,1640.5 L577.9,1642.3 L577.9,1686.7 L563.0,1687.6 L548.1,1686.2 L533.2,1686.7 L518.3,1686.2 L503.4,1682.2 L488.4,1678.1 L473.5,1676.3 L458.6,1676.3 L443.7,1677.6 L428.8,1679.9 L413.9,1681.3 L399.0,1683.1 L384.1,1684.9 L369.2,1683.5 L354.2,1684.4 L339.3,1687.6 L324.4,1684.4 L309.5,1685.8 L294.6,1691.7 L279.7,1698.5 L264.8,1710.7 L249.9,1715.7 L235.0,1718.4 L220.1,1717.5 L205.2,1710.7 L190.2,1696.7 L175.3,1677.6 L160.4,1720.7 L145.5,1721.6Z" fill="#2ca02c" fill-opacity="0.2" stroke="#2ca02c" stroke-opacity="0.25" stroke-width="1"/>
<path d="M145.5,1721.6 L160.4,1717.5 L175.3,1661.8 L190.2,1680.8 L205.2,1700.7 L220.1,1710.7 L235.0,1711.6 L249.9,1706.6 L264.8,1696.7 L279.7,1679.4 L294.6,1670.4 L309.5,1663.6 L324.4,1663.6 L339.3,1663.6 L354.2,1663.1 L369.2,1665.4 L384.1,1668.1 L399.0,1665.4 L413.9,1663.6 L428.8,1662.7 L443.7,1659.5 L458.6,1659.0 L473.5,1656.8 L488.4,1659.5 L503.4,1662.7 L518.3,1669.5 L533.2,1669.5 L548.1,1667.7 L563.0,1666.3 L577.9,1666.3" fill="none" stroke="#2ca02c" stroke-width="3.9" stroke-linejoin="round" stroke-linecap="butt"/>
<path d="M145.5,1721.6 L160.4,1721.1 L175.3,1719.3 L190.2,1719.3 L205.2,1720.2 L220.1,1720.2 L235.0,1720.2 L249.9,1719.3 L264.8,1718.4 L279.7,1716.6 L294.6,1715.7 L309.5,1715.7 L324.4,1716.2 L339.3,1715.7 L354.2,1715.7 L369.2,1716.2 L384.1,1716.2 L399.0,1715.7 L413.9,1715.7 L428.8,1715.7 L443.7,1715.3 L458.6,1715.3 L473.5,1714.3 L488.4,1714.3 L503.4,1714.8 L518.3,1714.8 L533.2,1714.8 L548.1,1714.3 L563.0,1714.3 L577.9,1713.4 L577.9,1721.6 L563.0,1721.6 L548.1,1721.6 L533.2,1721.6 L518.3,1721.6 L503.4,1721.6 L488.4,1721.6 L473.5,1721.6 L458.6,1721.6 L443.7,1721.6 L428.8,1721.6 L413.9,1721.6 L399.0,1721.6 L384.1,1721.6 L369.2,1721.6 L354.2,1721.6 L339.3,1721.6 L324.4,1721.6 L309.5,1721.6 L294.6,1721.6 L279.7,1721.6 L264.8,1721.6 L249.9,1721.6 L235.0,1721.6 L220.1,1721.6 L205.2,1721.6 L190.2,1721.6 L175.3,1721.6 L160.4,1721.6 L145.5,1721.6Z" fill="#8c564b" fill-opacity="0.2" stroke="#8c564b" stroke-opacity="0.25" stroke-width="1"/>
<path d="M145.5,1721.6 L160.4,1721.6 L175.3,1720.7 L190.2,1720.7 L205.2,1721.1 L220.1,1721.1 L235.0,1721.1 L249.9,1720.7 L264.8,1720.2 L279.7,1719.3 L294.6,1718.9 L309.5,1718.9 L324.4,1719.3 L339.3,1718.9 L354.2,1718.9 L369.2,1719.3 L384.1,1719.3 L399.0,1718.9 L413.9,1718.9 L428.8,1718.9 L443.7,1718.4 L458.6,1718.4 L473.5,1718.0 L488.4,1718.0 L503.4,1718.4 L518.3,1718.4 L533.2,1718.4 L548.1,1718.0 L563.0,1718.0 L577.9,1717.5" fill="none" stroke="#8c564b" stroke-width="3.9" stroke-linejoin="round" stroke-linecap="butt"/>
<path d="M145.5,1721.1 L160.4,1718.9 L175.3,1712.5 L190.2,1714.8 L205.2,1717.1 L220.1,1717.5 L235.0,1717.5 L249.9,1717.1 L264.8,1715.7 L279.7,1712.5 L294.6,1711.6 L309.5,1712.1 L324.4,1712.5 L339.3,1712.1 L354.2,1710.7 L369.2,1712.5 L384.1,1713.0 L399.0,1712.5 L413.9,1712.5 L428.8,1712.1 L443.7,1711.6 L458.6,1712.5 L473.5,1711.2 L488.4,1710.7 L503.4,1711.2 L518.3,1712.1 L533.2,1712.1 L548.1,1711.6 L563.0,1710.7 L577.9,1709.8 L577.9,1720.7 L563.0,1720.7 L548.1,1720.7 L533.2,1720.7 L518.3,1720.7 L503.4,1720.7 L488.4,1720.7 L473.5,1720.7 L458.6,1720.7 L443.7,1720.7 L428.8,1720.7 L413.9,1720.7 L399.0,1720.7 L384.1,1720.7 L369.2,1720.7 L354.2,1720.7 L339.3,1720.7 L324.4,1720.7 L309.5,1720.7 L294.6,1720.7 L279.7,1720.7 L264.8,1720.7 L249.9,1720.7 L235.0,1720.7 L220.1,1720.7 L205.2,1720.7 L190.2,1720.7 L175.3,1721.6 L160.4,1721.6 L145.5,1721.6Z" fill="#ff7f0e" fill-opacity="0.2" stroke="#ff7f0e" stroke-opacity="0.25" stroke-width="1"/>
<path d="M145.5,1721.6 L160.4,1720.7 L175.3,1716.2 L190.2,1718.0 L205.2,1719.3 L220.1,1719.8 L235.0,1719.8 L249.9,1719.3 L264.8,1718.9 L279.7,1717.5 L294.6,1717.1 L309.5,1717.1 L324.4,1717.5 L339.3,1717.1 L354.2,1716.6 L369.2,1717.5 L384.1,1717.5 L399.0,1717.1 L413.9,1717.1 L428.8,1716.6 L443.7,1716.6 L458.6,1717.1 L473.5,1716.2 L488.4,1715.7 L503.4,1716.2 L518.3,1716.6 L533.2,1716.6 L548.1,1716.2 L563.0,1715.7 L577.9,1715.3" fill="none" stroke="#ff7f0e" stroke-width="3.9" stroke-linejoin="round" stroke-linecap="butt"/>
</g>
<g id="chart2">
<path d="M662.8,1268.3 L677.7,1275.1 L692.6,1612.8 L707.5,1698.9 L722.5,1712.5 L737.4,1718.9 L752.3,1719.8 L767.2,1719.8 L782.1,1719.8 L797.0,1719.8 L811.9,1719.8 L826.8,1719.8 L841.7,1719.8 L856.6,1719.8 L871.5,1719.8 L886.5,1719.8 L901.4,1719.8 L916.3,1719.8 L931.2,1719.8 L946.1,1719.8 L961.0,1719.8 L975.9,1719.8 L990.8,1719.8 L1005.7,1719.8 L1020.6,1719.8 L1035.6,1719.8 L1050.5,1719.8 L1065.4,1719.8 L1080.3,1719.8 L1095.2,1719.8 L1095.2,1721.6 L1080.3,1721.6 L1065.4,1721.6 L1050.5,1721.6 L1035.6,1721.6 L1020.6,1721.6 L1005.7,1721.6 L990.8,1721.6 L975.9,1721.6 L961.0,1721.6 L946.1,1721.6 L931.2,1721.6 L916.3,1721.6 L901.4,1721.6 L886.5,1721.6 L871.5,1721.6 L856.6,1721.6 L841.7,1721.6 L826.8,1721.6 L811.9,1721.6 L797.0,1721.6 L782.1,1721.6 L767.2,1721.6 L752.3,1721.6 L737.4,1721.6 L722.5,1720.2 L707.5,1717.1 L692.6,1658.1 L677.7,1291.0 L662.8,1270.6Z" fill="#1f77b4" fill-opacity="0.2" stroke="#1f77b4" stroke-opacity="0.25" stroke-width="1"/>
<path d="M662.8,1268.3 L677.7,1281.9 L692.6,1634.6 L707.5,1708.9 L722.5,1716.6 L737.4,1720.7 L752.3,1721.1 L767.2,1721.1 L782.1,1721.1 L797.0,1721.1 L811.9,1721.1 L826.8,1721.1 L841.7,1721.1 L856.6,1721.1 L871.5,1721.1 L886.5,1721.1 L901.4,1721.1 L916.3,1721.1 L931.2,1721.1 L946.1,1721.1 L961.0,1721.1 L975.9,1721.1 L990.8,1721.1 L1005.7,1721.1 L1020.6,1721.1 L1035.6,1721.1 L1050.5,1721.1 L1065.4,1721.1 L1080.3,1721.1 L1095.2,1721.1" fill="none" stroke="#1f77b4" stroke-width="3.9" stroke-linejoin="round" stroke-linecap="butt"/>
<path d="M662.8,1720.7 L677.7,1716.2 L692.6,1526.7 L707.5,1404.3 L722.5,1299.1 L737.4,1290.1 L752.3,1299.1 L767.2,1326.3 L782.1,1354.4 L797.0,1380.3 L811.9,1408.4 L826.8,1428.3 L841.7,1440.6 L856.6,1448.3 L871.5,1451.9 L886.5,1456.0 L901.4,1452.8 L916.3,1448.7 L931.2,1448.3 L946.1,1444.2 L961.0,1441.0 L975.9,1439.2 L990.8,1432.4 L1005.7,1436.5 L1020.6,1439.2 L1035.6,1436.5 L1050.5,1436.5 L1065.4,1438.3 L1080.3,1438.3 L1095.2,1436.0 L1095.2,1481.8 L1080.3,1486.3 L1065.4,1488.2 L1050.5,1487.2 L1035.6,1487.7 L1020.6,1485.4 L1005.7,1484.1 L990.8,1482.7 L975.9,1485.9 L961.0,1487.2 L946.1,1494.5 L931.2,1501.3 L916.3,1500.4 L901.4,1506.3 L886.5,1509.5 L871.5,1509.9 L856.6,1505.4 L841.7,1494.5 L826.8,1474.6 L811.9,1454.6 L797.0,1426.5 L782.1,1394.3 L767.2,1362.1 L752.3,1330.4 L737.4,1307.3 L722.5,1338.1 L707.5,1440.6 L692.6,1553.9 L677.7,1721.6 L662.8,1721.6Z" fill="#9467bd" fill-opacity="0.2" stroke="#9467bd" stroke-opacity="0.25" stroke-width="1"/>
<path d="M662.8,1721.6 L677.7,1719.3 L692.6,1540.3 L707.5,1422.4 L722.5,1318.2 L737.4,1298.2 L752.3,1315.0 L767.2,1342.2 L782.1,1372.1 L797.0,1402.5 L811.9,1434.2 L826.8,1452.3 L841.7,1469.6 L856.6,1477.7 L871.5,1480.0 L886.5,1482.7 L901.4,1479.1 L916.3,1475.5 L931.2,1475.5 L946.1,1470.0 L961.0,1464.1 L975.9,1462.8 L990.8,1457.8 L1005.7,1460.0 L1020.6,1461.4 L1035.6,1463.7 L1050.5,1462.8 L1065.4,1463.7 L1080.3,1463.7 L1095.2,1459.1" fill="none" stroke="#9467bd" stroke-width="3.9" stroke-linejoin="round" stroke-linecap="butt"/>
<path d="M662.8,1720.7 L677.7,1708.0 L692.6,1557.5 L707.5,1578.4 L722.5,1670.4 L737.4,1687.6 L752.3,1670.4 L767.2,1642.7 L782.1,1614.6 L797.0,1596.5 L811.9,1582.4 L826.8,1567.5 L841.7,1558.0 L856.6,1561.1 L871.5,1566.6 L886.5,1563.4 L901.4,1562.5 L916.3,1568.4 L931.2,1573.4 L946.1,1575.6 L961.0,1581.1 L975.9,1575.6 L990.8,1577.5 L1005.7,1577.5 L1020.6,1578.4 L1035.6,1569.3 L1050.5,1572.0 L1065.4,1571.6 L1080.3,1572.0 L1095.2,1574.3 L1095.2,1610.5 L1080.3,1606.5 L1065.4,1610.5 L1050.5,1615.1 L1035.6,1615.1 L1020.6,1615.5 L1005.7,1616.4 L990.8,1619.6 L975.9,1616.9 L961.0,1614.6 L946.1,1610.1 L931.2,1611.4 L916.3,1604.6 L901.4,1598.8 L886.5,1598.3 L871.5,1600.1 L856.6,1596.5 L841.7,1603.3 L826.8,1613.3 L811.9,1632.3 L797.0,1648.6 L782.1,1660.4 L767.2,1677.6 L752.3,1699.8 L737.4,1706.6 L722.5,1697.6 L707.5,1636.4 L692.6,1608.3 L677.7,1720.2 L662.8,1721.6Z" fill="#d62728" fill-opacity="0.2" stroke="#d62728" stroke-opacity="0.25" stroke-width="1"/>
<path d="M662.8,1721.6 L677.7,1715.7 L692.6,1583.3 L707.5,1607.4 L722.5,1684.4 L737.4,1697.6 L752.3,1684.4 L767.2,1660.4 L782.1,1638.6 L797.0,1622.3 L811.9,1608.3 L826.8,1590.6 L841.7,1580.6 L856.6,1578.8 L871.5,1583.3 L886.5,1579.7 L901.4,1579.7 L916.3,1585.6 L931.2,1590.6 L946.1,1593.3 L961.0,1596.9 L975.9,1596.0 L990.8,1599.7 L1005.7,1596.5 L1020.6,1595.6 L1035.6,1591.0 L1050.5,1592.9 L1065.4,1590.6 L1080.3,1588.3 L1095.2,1592.0" fill="none" stroke="#d62728" stroke-width="3.9" stroke-linejoin="round" stroke-linecap="butt"/>
<path d="M662.8,1721.1 L677.7,1716.2 L692.6,1665.4 L707.5,1677.6 L722.5,1705.7 L737.4,1713.4 L752.3,1702.6 L767.2,1690.8 L782.1,1678.5 L797.0,1661.8 L811.9,1663.6 L826.8,1664.5 L841.7,1663.6 L856.6,1663.6 L871.5,1661.8 L886.5,1662.2 L901.4,1662.2 L916.3,1660.9 L931.2,1660.4 L946.1,1663.6 L961.0,1665.4 L975.9,1666.8 L990.8,1667.7 L1005.7,1667.7 L1020.6,1666.8 L1035.6,1669.0 L1050.5,1667.7 L1065.4,1667.7 L1080.3,1669.5 L1095.2,1671.3 L1095.2,1689.4 L1080.3,1687.6 L1065.4,1685.8 L1050.5,1685.8 L1035.6,1687.1 L1020.6,1684.9 L1005.7,1685.8 L990.8,1685.8 L975.9,1684.9 L961.0,1683.5 L946.1,1681.7 L931.2,1678.5 L916.3,1679.0 L901.4,1680.3 L886.5,1681.7 L871.5,1681.7 L856.6,1684.4 L841.7,1684.4 L826.8,1684.4 L811.9,1684.4 L797.0,1685.8 L782.1,1696.7 L767.2,1705.7 L752.3,1713.4 L737.4,1719.8 L722.5,1718.0 L707.5,1692.6 L692.6,1684.4 L677.7,1721.6 L662.8,1721.6Z" fill="#2ca02c" fill-opacity="0.2" stroke="#2ca02c" stroke-opacity="0.25" stroke-width="1"/>
<path d="M662.8,1721.6 L677.7,1719.3 L692.6,1675.4 L707.5,1684.4 L722.5,1712.5 L737.4,1716.6 L752.3,1708.5 L767.2,1698.5 L782.1,1688.5 L797.0,1673.6 L811.9,1674.0 L826.8,1673.6 L841.7,1673.6 L856.6,1674.9 L871.5,1671.3 L886.5,1671.3 L901.4,1671.3 L916.3,1669.9 L931.2,1669.5 L946.1,1672.6 L961.0,1674.5 L975.9,1675.8 L990.8,1676.7 L1005.7,1676.7 L1020.6,1675.8 L1035.6,1678.1 L1050.5,1676.7 L1065.4,1676.7 L1080.3,1678.5 L1095.2,1680.3" fill="none" stroke="#2ca02c" stroke-width="3.9" stroke-linejoin="round" stroke-linecap="butt"/>
<path d="M662.8,1721.4 L677.7,1721.4 L692.6,1721.4 L707.5,1721.4 L722.5,1721.4 L737.4,1721.4 L752.3,1721.4 L767.2,1721.4 L782.1,1720.6 L797.0,1719.2 L811.9,1717.0 L826.8,1714.1 L841.7,1710.7 L856.6,1708.5 L871.5,1707.1 L886.5,1708.9 L901.4,1709.4 L916.3,1708.5 L931.2,1706.6 L946.1,1708.9 L961.0,1709.4 L975.9,1710.3 L990.8,1710.7 L1005.7,1710.7 L1020.6,1710.3 L1035.6,1708.9 L1050.5,1708.5 L1065.4,1708.0 L1080.3,1709.4 L1095.2,1711.9 L1095.2,1719.2 L1080.3,1717.5 L1065.4,1716.2 L1050.5,1716.6 L1035.6,1717.1 L1020.6,1718.4 L1005.7,1718.9 L990.8,1718.9 L975.9,1718.4 L961.0,1717.5 L946.1,1717.1 L931.2,1714.8 L916.3,1716.6 L901.4,1717.5 L886.5,1717.1 L871.5,1715.3 L856.6,1716.6 L841.7,1718.9 L826.8,1719.8 L811.9,1720.5 L797.0,1721.1 L782.1,1721.4 L767.2,1721.6 L752.3,1721.6 L737.4,1721.6 L722.5,1721.6 L707.5,1721.6 L692.6,1721.6 L677.7,1721.6 L662.8,1721.6Z" fill="#8c564b" fill-opacity="0.2" stroke="#8c564b" stroke-opacity="0.25" stroke-width="1"/>
<path d="M662.8,1721.6 L677.7,1721.6 L692.6,1721.6 L707.5,1721.6 L722.5,1721.6 L737.4,1721.6 L752.3,1721.6 L767.2,1721.6 L782.1,1721.1 L797.0,1720.2 L811.9,1718.9 L826.8,1717.1 L841.7,1714.8 L856.6,1712.5 L871.5,1711.2 L886.5,1713.0 L901.4,1713.4 L916.3,1712.5 L931.2,1710.7 L946.1,1713.0 L961.0,1713.4 L975.9,1714.3 L990.8,1714.8 L1005.7,1714.8 L1020.6,1714.3 L1035.6,1713.0 L1050.5,1712.5 L1065.4,1712.1 L1080.3,1713.4 L1095.2,1715.7" fill="none" stroke="#8c564b" stroke-width="3.9" stroke-linejoin="round" stroke-linecap="butt"/>
<path d="M662.8,1721.1 L677.7,1721.1 L692.6,1709.4 L707.5,1715.3 L722.5,1719.7 L737.4,1720.4 L752.3,1720.4 L767.2,1720.4 L782.1,1719.7 L797.0,1716.1 L811.9,1713.2 L826.8,1710.7 L841.7,1708.9 L856.6,1707.1 L871.5,1705.3 L886.5,1705.7 L901.4,1706.6 L916.3,1706.2 L931.2,1705.3 L946.1,1703.0 L961.0,1702.6 L975.9,1703.5 L990.8,1703.0 L1005.7,1703.0 L1020.6,1703.9 L1035.6,1705.7 L1050.5,1706.6 L1065.4,1707.1 L1080.3,1707.1 L1095.2,1705.3 L1095.2,1713.4 L1080.3,1715.3 L1065.4,1715.3 L1050.5,1714.8 L1035.6,1713.9 L1020.6,1712.1 L1005.7,1711.2 L990.8,1711.2 L975.9,1711.6 L961.0,1710.7 L946.1,1711.2 L931.2,1713.4 L916.3,1714.3 L901.4,1714.8 L886.5,1713.9 L871.5,1713.4 L856.6,1715.3 L841.7,1717.1 L826.8,1718.9 L811.9,1719.6 L797.0,1720.3 L782.1,1721.2 L767.2,1721.4 L752.3,1721.4 L737.4,1721.4 L722.5,1721.2 L707.5,1720.1 L692.6,1717.5 L677.7,1721.6 L662.8,1721.6Z" fill="#ff7f0e" fill-opacity="0.2" stroke="#ff7f0e" stroke-opacity="0.25" stroke-width="1"/>
<path d="M662.8,1721.6 L677.7,1721.6 L692.6,1713.4 L707.5,1718.0 L722.5,1720.7 L737.4,1721.1 L752.3,1721.1 L767.2,1721.1 L782.1,1720.7 L797.0,1718.4 L811.9,1716.6 L826.8,1714.8 L841.7,1713.0 L856.6,1711.2 L871.5,1709.4 L886.5,1709.8 L901.4,1710.7 L916.3,1710.3 L931.2,1709.4 L946.1,1707.1 L961.0,1706.6 L975.9,1707.5 L990.8,1707.1 L1005.7,1707.1 L1020.6,1708.0 L1035.6,1709.8 L1050.5,1710.7 L1065.4,1711.2 L1080.3,1711.2 L1095.2,1709.4" fill="none" stroke="#ff7f0e" stroke-width="3.9" stroke-linejoin="round" stroke-linecap="butt"/>
</g>
<rect x="122.2" y="1719.2" width="479.6" height="5.6" fill="#000"/>
<rect x="127.8" y="1714.6" width="5.6" height="6" fill="#000"/>
<rect x="122.2" y="1265.4" width="5.6" height="459.4" fill="#000"/>
<rect x="122.2" y="1718.7" width="9.4" height="5.8" fill="#000"/>
<rect x="122.2" y="1628.0" width="9.4" height="5.8" fill="#000"/>
<rect x="122.2" y="1537.4" width="9.4" height="5.8" fill="#000"/>
<rect x="122.2" y="1446.7" width="9.4" height="5.8" fill="#000"/>
<rect x="122.2" y="1356.1" width="9.4" height="5.8" fill="#000"/>
<rect x="122.2" y="1265.4" width="9.4" height="5.8" fill="#000"/>
<rect x="639.5" y="1719.2" width="479.6" height="5.6" fill="#000"/>
<rect x="645.1" y="1714.6" width="5.6" height="6" fill="#000"/>
<text x="116.6" y="1734.6" font-size="37.5" text-anchor="end" font-weight="normal"  stroke="#000" stroke-width="0.41" stroke-linejoin="round">0</text>
<text x="116.6" y="1643.9" font-size="37.5" text-anchor="end" font-weight="normal"  stroke="#000" stroke-width="0.41" stroke-linejoin="round">20</text>
<text x="116.6" y="1553.3" font-size="37.5" text-anchor="end" font-weight="normal"  stroke="#000" stroke-width="0.41" stroke-linejoin="round">40</text>
<text x="116.6" y="1462.6" font-size="37.5" text-anchor="end" font-weight="normal"  stroke="#000" stroke-width="0.41" stroke-linejoin="round">60</text>
<text x="116.6" y="1372.0" font-size="37.5" text-anchor="end" font-weight="normal"  stroke="#000" stroke-width="0.41" stroke-linejoin="round">80</text>
<text x="116.6" y="1281.3" font-size="37.5" text-anchor="end" font-weight="normal"  stroke="#000" stroke-width="0.41" stroke-linejoin="round">100</text>
<text x="130.6" y="1756.6" font-size="37.5" text-anchor="middle" font-weight="normal"  stroke="#000" stroke-width="0.41" stroke-linejoin="round">0</text>
<text x="355.1" y="1756.6" font-size="37.5" text-anchor="middle" font-weight="normal"  stroke="#000" stroke-width="0.41" stroke-linejoin="round">1500</text>
<text x="578.7" y="1756.6" font-size="37.5" text-anchor="middle" font-weight="normal"  stroke="#000" stroke-width="0.41" stroke-linejoin="round">3000</text>
<text x="360.6" y="1802.0" font-size="42.0" text-anchor="middle" font-weight="normal"  stroke="#000" stroke-width="0.46" stroke-linejoin="round">Time (ms)</text>
<text x="647.9" y="1756.6" font-size="37.5" text-anchor="middle" font-weight="normal"  stroke="#000" stroke-width="0.41" stroke-linejoin="round">0</text>
<text x="872.3" y="1756.6" font-size="37.5" text-anchor="middle" font-weight="normal"  stroke="#000" stroke-width="0.41" stroke-linejoin="round">1500</text>
<text x="1096.0" y="1756.6" font-size="37.5" text-anchor="middle" font-weight="normal"  stroke="#000" stroke-width="0.41" stroke-linejoin="round">3000</text>
<text x="877.8" y="1802.0" font-size="42.0" text-anchor="middle" font-weight="normal"  stroke="#000" stroke-width="0.46" stroke-linejoin="round">Time (ms)</text>
<text transform="translate(51.8,1757.4) rotate(-90)" font-size="41" stroke="#000" stroke-width="0.45" stroke-linejoin="round">Proportion looking time (%)</text>
<rect x="839.2" y="1236" width="455" height="168" rx="5" ry="5" fill="#fff" fill-opacity="0.8" stroke="#cccccc" stroke-width="1.6"/>
<rect x="849.8" y="1276.8" width="62.4" height="2.3" fill="#1f77b4"/>
<rect x="849.8" y="1331.9" width="62.4" height="2.3" fill="#9467bd"/>
<rect x="849.8" y="1373.8" width="62.4" height="2.3" fill="#d62728"/>
<rect x="1129.2" y="1276.8" width="62.4" height="2.3" fill="#2ca02c"/>
<rect x="1129.2" y="1319.0" width="62.4" height="2.3" fill="#8c564b"/>
<rect x="1129.2" y="1361.1" width="62.4" height="2.3" fill="#ff7f0e"/>
<text x="934.2" y="1269.4" font-size="30.0" text-anchor="start" font-weight="normal"  stroke="#000" stroke-width="0.33" stroke-linejoin="round">Obligatory</text>
<text x="935.0" y="1300.2" font-size="30.0" text-anchor="start" font-weight="normal"  stroke="#000" stroke-width="0.33" stroke-linejoin="round">fixation</text>
<text x="934.0" y="1342.6" font-size="30.0" text-anchor="start" font-weight="normal"  stroke="#000" stroke-width="0.33" stroke-linejoin="round">Head</text>
<text x="935.0" y="1384.7" font-size="30.0" text-anchor="start" font-weight="normal"  stroke="#000" stroke-width="0.33" stroke-linejoin="round">Wing</text>
<text x="1213.4" y="1288.3" font-size="30.0" text-anchor="start" font-weight="normal"  stroke="#000" stroke-width="0.33" stroke-linejoin="round">Body</text>
<text x="1213.4" y="1330.5" font-size="30.0" text-anchor="start" font-weight="normal"  stroke="#000" stroke-width="0.33" stroke-linejoin="round">Tail</text>
<text x="1213.4" y="1372.4" font-size="30.0" text-anchor="start" font-weight="normal"  stroke="#000" stroke-width="0.33" stroke-linejoin="round">Feet</text>
<text x="605.6" y="49.2" font-size="60.9" text-anchor="middle" font-weight="normal"  stroke="#000" stroke-width="0.67" stroke-linejoin="round">Regions of Interest</text>
<text x="350.5" y="666.8" font-size="61.2" text-anchor="middle" font-weight="normal"  stroke="#000" stroke-width="0.67" stroke-linejoin="round">Experts</text>
<text x="880.3" y="666.8" font-size="61.2" text-anchor="middle" font-weight="normal"  stroke="#000" stroke-width="0.67" stroke-linejoin="round">Novices</text>
<text x="4.0" y="126.6" font-size="71.0" text-anchor="start" font-weight="bold" >A</text>
<text x="3.6" y="751.9" font-size="71.0" text-anchor="start" font-weight="bold" >B</text>
<text x="3.4" y="1240.4" font-size="71.0" text-anchor="start" font-weight="bold" >C</text>
<rect x="714.8" y="90.8" width="366" height="457.4" rx="9" ry="9" fill="#fff" stroke="#cccccc" stroke-width="2.2"/>
<rect x="737.4" y="134.1" width="126.4" height="4.4" fill="#9467bd"/>
<text x="910.4" y="159.5" font-size="60.9" text-anchor="start" font-weight="normal"  stroke="#000" stroke-width="0.67" stroke-linejoin="round">Head</text>
<rect x="737.4" y="223.0" width="126.4" height="4.4" fill="#d62728"/>
<text x="910.4" y="246.2" font-size="60.9" text-anchor="start" font-weight="normal"  stroke="#000" stroke-width="0.67" stroke-linejoin="round">Wing</text>
<rect x="737.4" y="310.8" width="126.4" height="4.4" fill="#2ca02c"/>
<text x="910.4" y="334.6" font-size="60.9" text-anchor="start" font-weight="normal"  stroke="#000" stroke-width="0.67" stroke-linejoin="round">Body</text>
<rect x="737.4" y="399.2" width="126.4" height="4.4" fill="#8c564b"/>
<text x="910.4" y="422.2" font-size="60.9" text-anchor="start" font-weight="normal"  stroke="#000" stroke-width="0.67" stroke-linejoin="round">Tail</text>
<rect x="737.4" y="486.1" width="126.4" height="4.4" fill="#ff7f0e"/>
<text x="910.4" y="509.6" font-size="60.9" text-anchor="start" font-weight="normal"  stroke="#000" stroke-width="0.67" stroke-linejoin="round">Feet</text>
<rect x="1146" y="708.90" width="17.2" height="33.52" fill="#fff64a"/>
<rect x="1146" y="742.02" width="17.2" height="33.52" fill="#f9dc52"/>
<rect x="1146" y="775.13" width="17.2" height="33.52" fill="#f7cc68"/>
<rect x="1146" y="808.25" width="17.2" height="33.52" fill="#f3b87a"/>
<rect x="1146" y="841.36" width="17.2" height="33.52" fill="#f0ae86"/>
<rect x="1146" y="874.48" width="17.2" height="33.52" fill="#efb09a"/>
<rect x="1146" y="907.59" width="17.2" height="33.52" fill="#ecb8ac"/>
<rect x="1146" y="940.71" width="17.2" height="33.52" fill="#e8bccc"/>
<rect x="1146" y="973.82" width="17.2" height="33.52" fill="#e6c6f0"/>
<rect x="1146" y="1006.94" width="17.2" height="33.52" fill="#e6d2fb"/>
<rect x="1146" y="1040.05" width="17.2" height="33.52" fill="#ece0fa"/>
<rect x="1146" y="1073.17" width="17.2" height="33.52" fill="#f2ecf6"/>
<rect x="1146" y="1106.28" width="17.2" height="33.52" fill="#f7f7f7"/>
<rect x="1143.55" y="706.15" width="22" height="436" fill="none" stroke="#000" stroke-width="5.5"/>
<text x="1188.5" y="739.4" font-size="41.0" text-anchor="start" font-weight="bold" >Max</text>
<text x="1187.6" y="788.2" font-size="41.0" text-anchor="start" font-weight="bold" >60%</text>
<text x="1185.1" y="1093.9" font-size="41.0" text-anchor="start" font-weight="bold" >0%</text>
<text x="1179.3" y="1141.2" font-size="41.0" text-anchor="start" font-weight="bold" >Min</text>
</svg>
</body></html>
